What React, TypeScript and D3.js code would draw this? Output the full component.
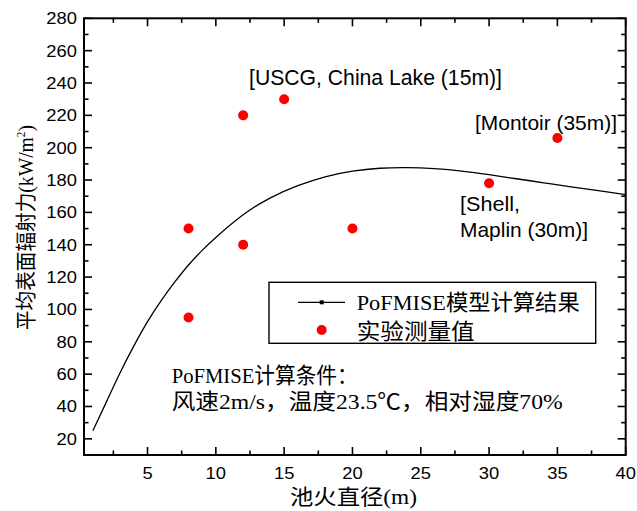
import React from "react";
import * as d3 from "d3";

// Model curve: mean surface emissive power vs pool diameter
const modelDiameter = [1, 2, 3, 4, 5, 6, 7, 8, 9, 10, 12, 14, 16, 18, 20, 22, 24, 26, 28, 30, 32, 34, 36, 38, 40];
const modelPower = [25, 43, 61, 77.5, 92.5, 105.5, 117, 127.5, 136.5, 144.5, 158.5, 169, 176.5, 182, 185.5, 187.3, 187.7, 187, 185.5, 183.3, 180.8, 178.3, 175.8, 173.4, 171];

// Experimental measurements
const testDiameter = [8, 8, 12, 12, 15, 20, 30, 35];
const testPower = [150, 95, 220, 140, 230, 150, 178, 206];

const xMajorTicks = [5, 10, 15, 20, 25, 30, 35, 40];
const xMinorTicks = [2.5, 7.5, 12.5, 17.5, 22.5, 27.5, 32.5, 37.5];
const yMajorTicks = [20, 40, 60, 80, 100, 120, 140, 160, 180, 200, 220, 240, 260, 280];
const yMinorTicks = [30, 50, 70, 90, 110, 130, 150, 170, 190, 210, 230, 250, 270];

const W = 637;
const H = 511;
const left = 84;
const right = 625.7;
const top = 18.3;
const bottom = 455;

const CJK = "'Liberation Serif', 'Noto Sans CJK SC', serif";
const SANS = "'Liberation Sans', Arial, sans-serif";

export default function App() {
  const x = d3.scaleLinear().domain([0.35, 40]).range([left, right]);
  const y = d3.scaleLinear().domain([10, 280]).range([bottom, top]);

  const line = d3
    .line<number>()
    .x((_, i) => x(modelDiameter[i]))
    .y((d) => y(d))
    .curve(d3.curveNatural);

  const major = 8;
  const minor = 4.5;
  const tickStroke = { stroke: "#000", strokeWidth: 1.6 };

  return (
    <svg
      width={W}
      height={H}
      style={{ position: "absolute", left: 0, top: 0, background: "#fff" }}
    >
      <rect x={0} y={0} width={W} height={H} fill="#fff" />

      {/* model curve */}
      <path d={line(modelPower) ?? ""} fill="none" stroke="#000" strokeWidth={1.3} />

      {/* measurements */}
      {testDiameter.map((d, i) => (
        <circle key={i} cx={x(d)} cy={y(testPower[i])} r={5} fill="#ff0000" />
      ))}

      {/* frame ticks */}
      {xMajorTicks.map((t) => (
        <g key={"xM" + t}>
          <line x1={x(t)} x2={x(t)} y1={bottom} y2={bottom - major} {...tickStroke} />
          <line x1={x(t)} x2={x(t)} y1={top} y2={top + major} {...tickStroke} />
        </g>
      ))}
      {xMinorTicks.map((t) => (
        <g key={"xm" + t}>
          <line x1={x(t)} x2={x(t)} y1={bottom} y2={bottom - minor} {...tickStroke} />
          <line x1={x(t)} x2={x(t)} y1={top} y2={top + minor} {...tickStroke} />
        </g>
      ))}
      {yMajorTicks.map((t) => (
        <g key={"yM" + t}>
          <line x1={left} x2={left + major} y1={y(t)} y2={y(t)} {...tickStroke} />
          <line x1={right} x2={right - major} y1={y(t)} y2={y(t)} {...tickStroke} />
        </g>
      ))}
      {yMinorTicks.map((t) => (
        <g key={"ym" + t}>
          <line x1={left} x2={left + minor} y1={y(t)} y2={y(t)} {...tickStroke} />
          <line x1={right} x2={right - minor} y1={y(t)} y2={y(t)} {...tickStroke} />
        </g>
      ))}
      <rect
        x={left}
        y={top}
        width={right - left}
        height={bottom - top}
        fill="none"
        stroke="#000"
        strokeWidth={2}
      />

      {/* tick labels */}
      {xMajorTicks.map((t) => (
        <text
          key={"xl" + t}
          transform={`translate(${x(t)},479) scale(1.08,1)`}
          textAnchor="middle"
          fontFamily={SANS}
          fontSize={17}
          fill="#000"
        >
          {t}
        </text>
      ))}
      {yMajorTicks.map((t) => (
        <text
          key={"yl" + t}
          transform={`translate(77,${y(t) + 6}) scale(1.08,1)`}
          textAnchor="end"
          fontFamily={SANS}
          fontSize={17}
          fill="#000"
        >
          {t}
        </text>
      ))}

      {/* axis titles */}
      <text
        x={290}
        y={504}
        fontFamily={CJK}
        fontSize={21}
        textLength={127}
        lengthAdjust="spacingAndGlyphs"
        fill="#000"
      >
        池火直径(m)
      </text>
      <text
        transform="translate(33,227.5) rotate(-90)"
        textAnchor="middle"
        fontFamily={CJK}
        fontSize={21}
        textLength={205}
        lengthAdjust="spacingAndGlyphs"
        fill="#000"
      >
        平均表面辐射力(kW/m<tspan dy={-8} fontSize={12}>2</tspan>
        <tspan dy={8}>)</tspan>
      </text>

      {/* site annotations */}
      <text x={249} y={85} fontFamily={SANS} fontSize={22} textLength={253} lengthAdjust="spacingAndGlyphs">
        [USCG, China Lake (15m)]
      </text>
      <text x={475} y={130} fontFamily={SANS} fontSize={21} textLength={142} lengthAdjust="spacingAndGlyphs">
        [Montoir (35m)]
      </text>
      <text x={460} y={211} fontFamily={SANS} fontSize={21} textLength={60} lengthAdjust="spacingAndGlyphs">
        [Shell,
      </text>
      <text x={460} y={237} fontFamily={SANS} fontSize={21} textLength={128} lengthAdjust="spacingAndGlyphs">
        Maplin (30m)]
      </text>

      {/* legend */}
      <rect x={269} y={282.3} width={326.7} height={61} fill="#fff" stroke="#000" strokeWidth={1.4} />
      <line x1={298} x2={345} y1={302.3} y2={302.3} stroke="#000" strokeWidth={1.3} />
      <rect x={319.7} y={300.3} width={4} height={4} fill="#000" />
      <circle cx={321.7} cy={330} r={5} fill="#ff0000" />
      <text x={356.7} y={310} fontFamily={CJK} fontSize={22} textLength={223} lengthAdjust="spacingAndGlyphs">
        PoFMISE模型计算结果
      </text>
      <text x={356.7} y={339} fontFamily={CJK} fontSize={22} textLength={118} lengthAdjust="spacingAndGlyphs">
        实验测量值
      </text>

      {/* computation conditions */}
      <text x={171.7} y={383} fontFamily={CJK} fontSize={22} textLength={186} lengthAdjust="spacingAndGlyphs">
        PoFMISE计算条件：
      </text>
      <text x={171.7} y={409} fontFamily={CJK} fontSize={22} textLength={391} lengthAdjust="spacingAndGlyphs">
        风速2m/s，温度23.5℃，相对湿度70%
      </text>
    </svg>
  );
}
